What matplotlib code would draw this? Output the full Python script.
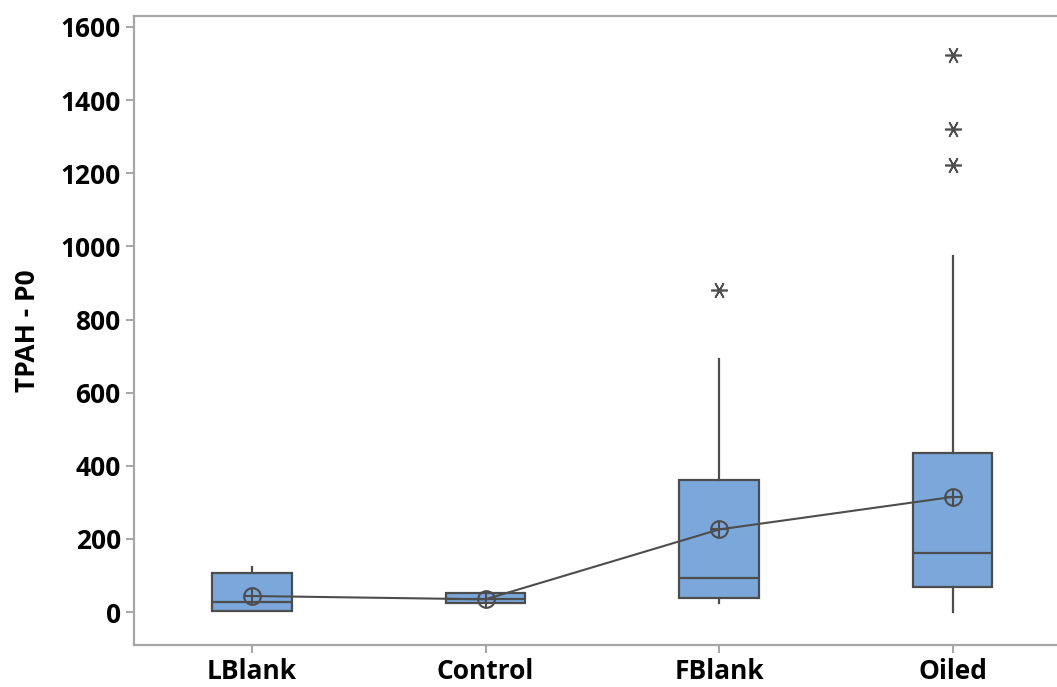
import matplotlib
matplotlib.use("Agg")
import matplotlib.pyplot as plt

# Group labels and five-number summaries of TPAH - P0
categories = ["LBlank", "Control", "FBlank", "Oiled"]
q1 = [2, 24, 39, 68]
medians = [29, 36, 94, 163]
q3 = [106, 51, 361, 436]
whisker_low = [2, 24, 24, 0]
whisker_high = [122, 51, 691, 973]
means = [44, 35, 226, 315]
outliers = [[], [], [880], [1223, 1320, 1524]]

yticks = [0, 200, 400, 600, 800, 1000, 1200, 1400, 1600]

plt.rcParams['font.family'] = ['Open Sans', 'DejaVu Sans']

fig = plt.figure(figsize=(10.57, 6.87), dpi=100)
ax = fig.add_axes([0.1268, 0.0611, 0.8732, 0.9156])

box_fill = "#7BA7DB"
edge = "#4D4D4D"
spine_col = "#A6A6A6"

stats = []
for i, name in enumerate(categories):
    stats.append(dict(label=name, q1=q1[i], med=medians[i], q3=q3[i],
                      whislo=whisker_low[i], whishi=whisker_high[i],
                      fliers=outliers[i], mean=means[i]))

positions = list(range(len(categories)))
ax.bxp(stats, positions=positions, widths=0.34, patch_artist=True,
       showcaps=False, showmeans=False,
       boxprops=dict(facecolor=box_fill, edgecolor=edge, linewidth=1.6),
       medianprops=dict(color=edge, linewidth=1.6),
       whiskerprops=dict(color=edge, linewidth=1.6),
       flierprops=dict(marker=(6, 2, 90), markersize=12, markeredgecolor=edge,
                       markeredgewidth=1.2, linestyle='none'))

# Connected means drawn as circled crosses
ax.plot(positions, means, color=edge, linewidth=1.5, zorder=4)
ax.plot(positions, means, linestyle='none', marker='o', markersize=12,
        markerfacecolor='none', markeredgecolor=edge, markeredgewidth=1.5, zorder=5)
ax.plot(positions, means, linestyle='none', marker='+', markersize=12,
        markeredgecolor=edge, markeredgewidth=1.5, zorder=5)

ax.set_xlim(-0.505, 3.447)
ax.set_ylim(-90, 1630)
ax.set_yticks(yticks)
ax.set_xticks(positions)
ax.set_xticklabels(categories)

for side in ["left", "bottom", "top"]:
    ax.spines[side].set_color(spine_col)
    ax.spines[side].set_linewidth(1.6)
ax.spines["right"].set_visible(False)

ax.tick_params(axis='both', colors=spine_col, length=6, width=1.4,
               labelcolor='black', labelsize=19)
for lab in ax.get_xticklabels() + ax.get_yticklabels():
    lab.set_fontweight('bold')

ax.set_ylabel("TPAH - P0", fontsize=19, fontweight='bold', labelpad=14)

fig.savefig("out.png", dpi=100)
